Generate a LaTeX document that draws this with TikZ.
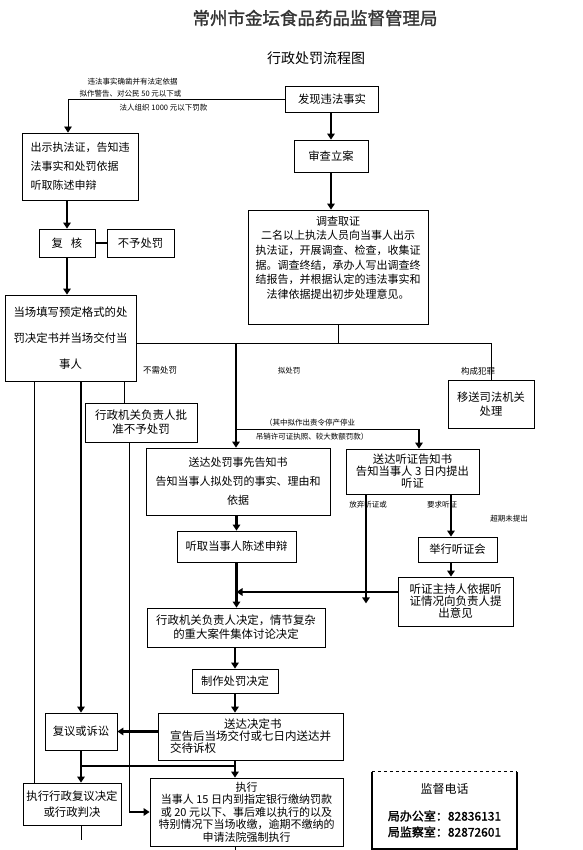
\documentclass[tikz,border=0pt]{standalone}
\usepackage{fontspec}
\setmainfont{Noto Sans CJK SC}[AutoFakeBold=1.5]
\usepackage{tikz}
\usetikzlibrary{arrows.meta}
\newcommand{\fz}[2]{\fontsize{#1}{#2}\selectfont}

\begin{document}
\begin{tikzpicture}[x=1pt, y=-1pt, >={Triangle[width=7.5pt,length=6pt]},
  box/.style={draw, line width=0.8pt, inner sep=0pt, align=center, font=\fz{11.3}{13}},
  ln/.style={line width=0.8pt},
  thk/.style={line width=2.4pt},
  arr/.style={thk, ->},
  lab/.style={inner sep=0pt, font=\fz{7.5}{9}}]
\useasboundingbox (0,0) rectangle (582,850);

\node[font=\fz{17.5}{19}\bfseries, text=black!80] (title) at (315,18) {常州市金坛食品药品监督管理局};
\node[font=\fz{14}{16}] (subtitle) at (316,58) {行政处罚流程图};

\node[box, minimum width=93pt, minimum height=26pt] (faxian) at (332,99) {发现违法事实};
\node[box, minimum width=74pt, minimum height=32pt] (shencha) at (331,156) {审查立案};
\node[box, minimum width=180pt, minimum height=114pt, font=\fz{11}{14.6}] (diaocha) at (338,267)
  {调查取证\\二名以上执法人员向当事人出示\\执法证，开展调查、检查，收集证\\据。调查终结，承办人写出调查终\\结报告，并根据认定的违法事实和\\法律依据提出初步处理意见。\\[5pt]\mbox{}};

\node[box, minimum width=116pt, minimum height=67pt, align=left, font=\fz{11}{19}] (chushi) at (80,166.5)
  {出示执法证，告知违\\法事实和处罚依据\\听取陈述申辩};
\node[box, minimum width=56pt, minimum height=28pt] (fuhe) at (67,243) {复\hspace{8pt}核};
\node[box, minimum width=67pt, minimum height=28pt] (buyu) at (140.5,243) {不予处罚};
\node[box, minimum width=131pt, minimum height=86pt, font=\fz{11.4}{26}] (dangchang) at (70.5,338)
  {当场填写预定格式的处\\罚决定书并当场交付当\\事人};
\node[box, minimum width=112pt, minimum height=39pt, font=\fz{11.5}{14}] (pizhun) at (141,422.5)
  {行政机关负责人批\\准不予处罚};
\node[box, minimum width=86pt, minimum height=48pt, font=\fz{11.3}{14}] (yisong) at (491,404)
  {移送司法机关\\处理};

\node[box, minimum width=184pt, minimum height=67pt, font=\fz{11}{19}] (shixian) at (238,481.5)
  {送达处罚事先告知书\\告知当事人拟处罚的事实、理由和\\依据};
\node[box, minimum width=133pt, minimum height=45pt, font=\fz{11.3}{12}] (tingzheng) at (412.5,471.5)
  {送达听证告知书\\告知当事人 3 日内提出\\听证};
\node[box, minimum width=119pt, minimum height=31pt] (tingqu) at (236.5,546.5) {听取当事人陈述申辩};
\node[box, minimum width=79pt, minimum height=25pt] (juxing) at (457.5,549.5) {举行听证会};
\node[box, minimum width=115pt, minimum height=49pt, font=\fz{11.5}{12}] (zhuchi) at (455.5,601.5)
  {听证主持人依据听\\证情况向负责人提\\出意见};
\node[box, minimum width=178pt, minimum height=39pt, font=\fz{11.4}{14}] (jueding) at (236,627.5)
  {行政机关负责人决定，情节复杂\\的重大案件集体讨论决定};
\node[box, minimum width=86pt, minimum height=24pt] (zhizuo) at (235,681) {制作处罚决定};
\node[box, minimum width=185pt, minimum height=47pt, align=left, font=\fz{11.5}{12}] (songda) at (250.5,736.5)
  {\hspace*{54pt}送达决定书\\宣告后当场交付或七日内送达并\\交待诉权};
\node[box, minimum width=72pt, minimum height=37pt] (fuyi) at (81,731.5) {复议或诉讼};
\node[box, minimum width=98pt, minimum height=42pt, font=\fz{11.4}{16}] (zhixingfy) at (72,804)
  {执行行政复议决定\\或行政判决};
\node[box, minimum width=193pt, minimum height=68pt, font=\fz{11}{12.5}] (zhixing) at (246.5,812)
  {执行\\当事人 15 日内到指定银行缴纳罚款\\或 20 元以下、事后难以执行的以及\\特别情况下当场收缴，逾期不缴纳的\\申请法院强制执行};

\node[minimum width=145pt, minimum height=77pt, align=center, font=\fz{12}{16}] (jiandu) at (444.5,810.5)
  {监督电话\\[11pt]{\bfseries 局办公室：82836131}\\{\bfseries 局监察室：82872601}};
\draw[ln, dashed] (jiandu.north west) -- (jiandu.north east);
\draw[line width=1.6pt] (jiandu.north west) -- (jiandu.south west) -- (jiandu.south east) -- (jiandu.north east);

\node[lab] (cond1) at (132.5,82) {违法事实确凿并有法定依据};
\node[lab] (cond2) at (130.5,94) {拟作警告、对公民 50 元以下或};
\node[lab] (cond3) at (163.5,108) {法人组织 1000 元以下罚款};
\node[lab, font=\fz{8.5}{10}] (nopunish) at (160,370) {不需处罚};
\node[lab] (topunish) at (289,371) {拟处罚};
\node[lab, font=\fz{8.5}{10}] (crime) at (478,371) {构成犯罪};
\node[lab] (heavy1) at (310,423) {（其中拟作出责令停产停业};
\node[lab] (heavy2) at (312,437) {吊销许可证执照、较大数额罚款）};
\node[lab] (waive) at (368,505) {放弃听证或};
\node[lab] (demand) at (442,505) {要求听证};
\node[lab] (overdue) at (509,519) {超期未提出};

\coordinate (split) at (236,343);
\coordinate (branch) at (236,429);
\coordinate (merge) at (235,766);
\coordinate (tzin) at ([xshift=6.5pt]tingzheng.north);
\coordinate (bypass) at ([xshift=-12pt]pizhun.south);

\draw[arr] (shencha.north |- faxian.south) -- (shencha.north);
\draw[arr] (shencha.south) -- (shencha.south |- diaocha.north);
\draw[ln, ->] (faxian.west) -| ([xshift=-12pt]chushi.north);
\draw[arr] (fuhe.north |- chushi.south) -- (fuhe.north);
\draw[thk] (fuhe.east) -- (buyu.west);
\draw[arr] (fuhe.south) -- (fuhe.south |- dangchang.north);

\draw[ln] ([yshift=-5pt]dangchang.east) -| (yisong.north);
\draw[ln] (diaocha.south) -- (diaocha.south |- split);
\draw[arr] (split) -- (split |- shixian.north);
\draw[ln] (branch) -- (branch -| tzin);
\draw[arr] (branch -| tzin) -- (tzin);

\draw[ln] ([xshift=-36pt]dangchang.south) -- ([xshift=-36pt]dangchang.south |- zhixingfy.north);
\draw[arr] (fuyi.north |- dangchang.south) -- (fuyi.north);
\draw[ln] ([xshift=53.5pt]dangchang.south) -- ([xshift=53.5pt]dangchang.south |- pizhun.north);
\draw[ln] (bypass) -- (bypass |- zhixing.west);
\draw[arr] (bypass |- zhixing.west) -- (zhixing.west);

\draw[arr] (tingqu.north |- shixian.south) -- (tingqu.north);
\draw[arr] (tingqu.south) -- (tingqu.south |- jueding.north);
\draw[arr] ([yshift=9.5pt]zhuchi.west) -- ([yshift=9.5pt]zhuchi.west -| tingqu.south);
\draw[arr] ([xshift=-46.5pt]tingzheng.south) -- ++(0,109);
\draw[arr] ([xshift=38.5pt]tingzheng.south) -- ([xshift=38.5pt]tingzheng.south |- juxing.north);
\draw[arr] ([xshift=-6.5pt]juxing.south) -- ([xshift=-6.5pt]juxing.south |- zhuchi.north);

\draw[arr] (zhizuo.north |- jueding.south) -- (zhizuo.north);
\draw[arr] (zhizuo.south) -- (zhizuo.south |- songda.north);
\draw[arr] (songda.west |- fuyi.east) -- (fuyi.east);
\draw[arr] (zhizuo.south |- songda.south) -- (zhizuo.south |- zhixing.north);
\draw[arr] (fuyi.south) -- (fuyi.south |- zhixingfy.north);
\draw[thk] (fuyi.south |- merge) -- (merge);
\draw[ln] (fuyi.south |- zhixingfy.south) -- ++(0,15);
\draw[ln] (zhizuo.south |- zhixing.south) -- ++(0,4);
\end{tikzpicture}
\end{document}
